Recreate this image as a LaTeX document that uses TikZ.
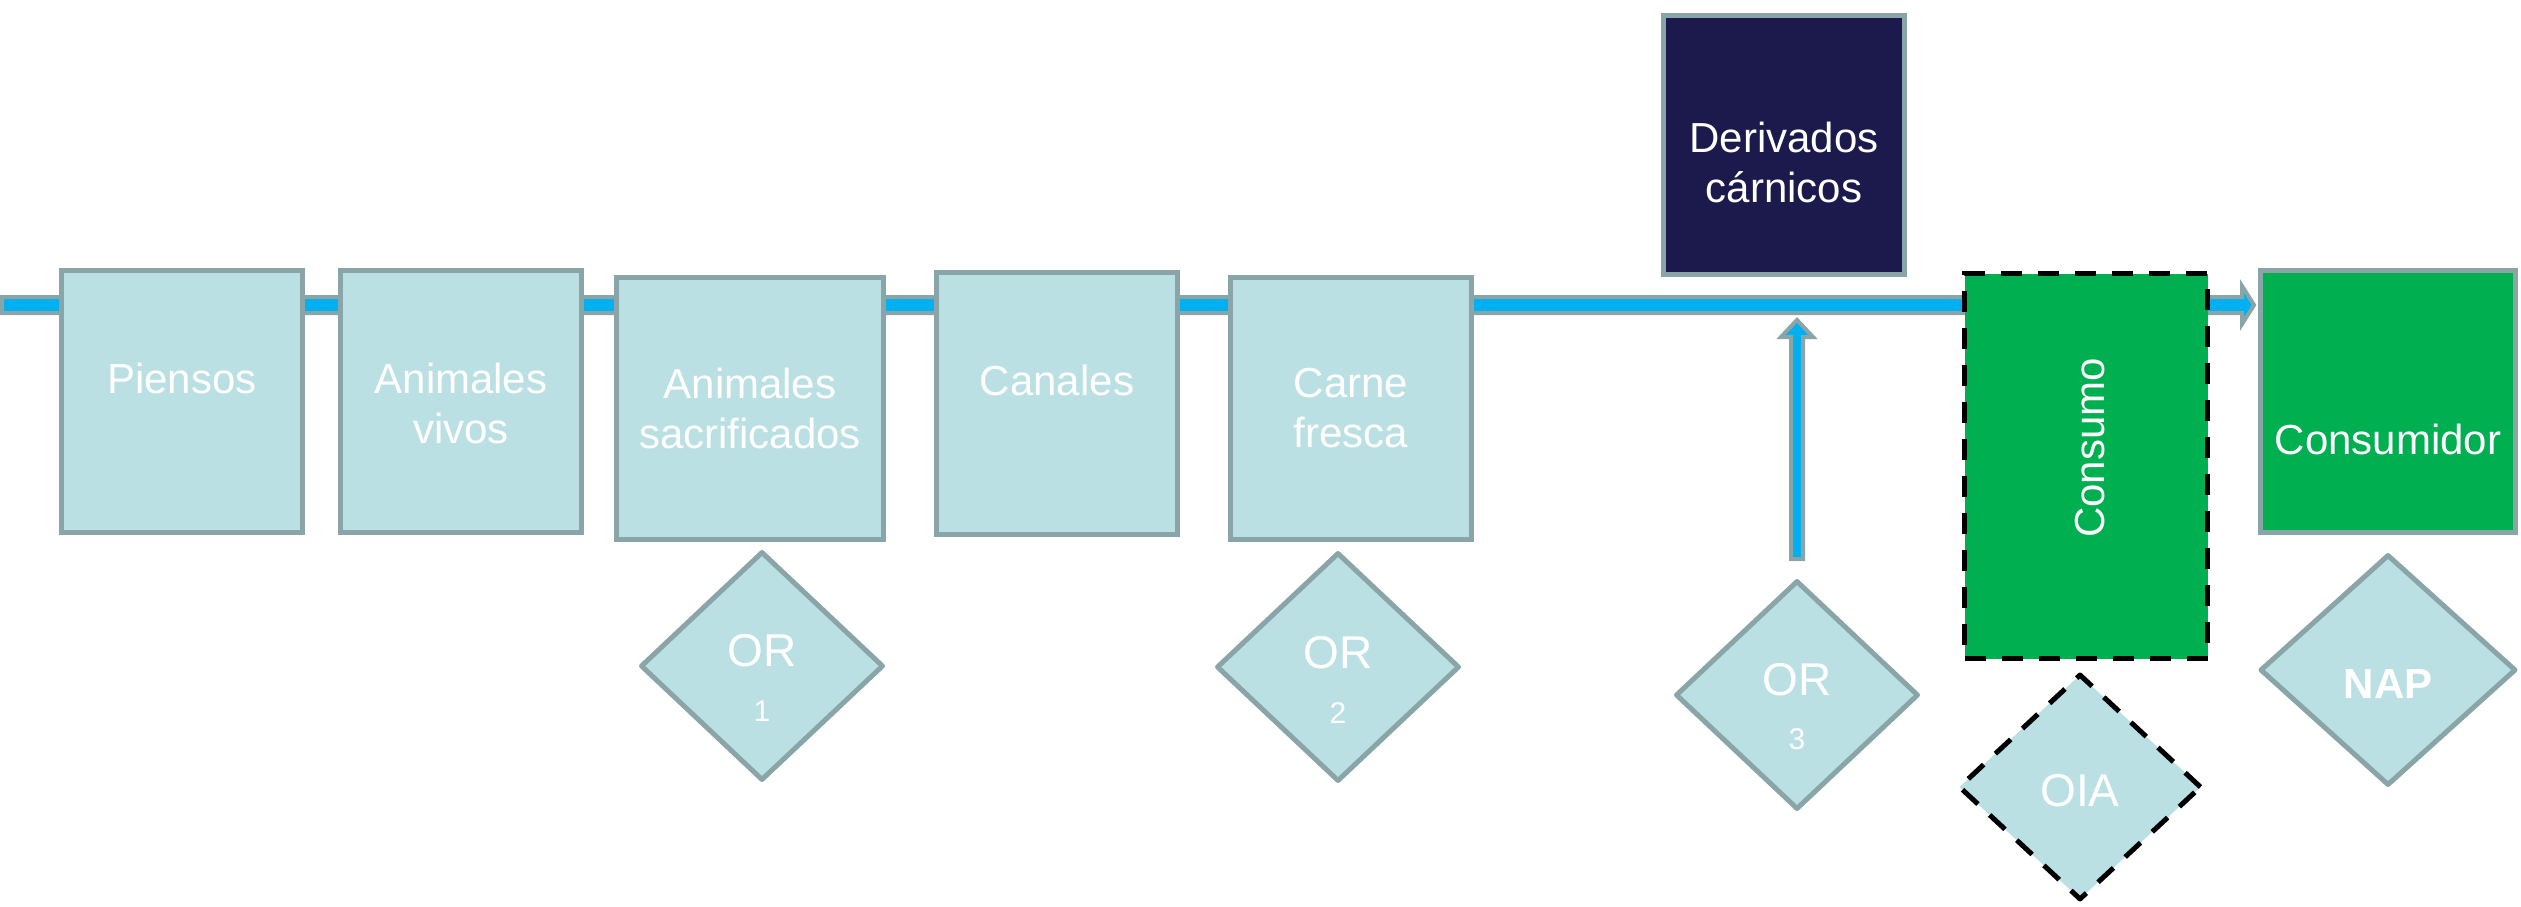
\documentclass[tikz,border=0pt]{standalone}
\usepackage{fontspec}
\setmainfont{Liberation Sans}
\usetikzlibrary{shapes.geometric,calc}
\definecolor{boxfill}{HTML}{BBE0E3}
\definecolor{boxline}{HTML}{8AA5A8}
\definecolor{flowblue}{HTML}{00B0F0}
\definecolor{navyfill}{HTML}{1C1A4C}
\definecolor{consgreen}{HTML}{00AF50}
\begin{document}
\begin{tikzpicture}[x=1pt,y=-1pt,
  stagebox/.style={draw=boxline, fill=boxfill, line width=5pt, inner sep=0pt,
    minimum width=241pt, minimum height=262pt},
  darkbox/.style={stagebox, fill=navyfill},
  greenbox/.style={stagebox, fill=consgreen},
  dashbox/.style={draw=black, fill=consgreen, line width=5pt, inner sep=0pt,
    dash pattern=on 21pt off 16pt},
  gate/.style={diamond, draw=boxline, fill=boxfill, line width=5pt, inner sep=0pt,
    line join=round, minimum width=243pt, minimum height=229pt},
  dashgate/.style={gate, draw=black, dash pattern=on 21pt off 16pt},
  flowarrow/.style={fill=flowblue, draw=boxline, line width=4pt, line join=miter},
  lbl/.style={text=white, inner sep=0pt, font=\fontsize{42}{50}\selectfont, align=center},
  orlbl/.style={text=white, inner sep=0pt, font=\fontsize{46}{54}\selectfont},
  numlbl/.style={text=white, inner sep=0pt, font=\fontsize{30}{36}\selectfont}
]
\useasboundingbox (0,0) rectangle (2521,907);

% flow line
\coordinate (flowstart) at (2,305);
\node[greenbox, minimum width=255pt] (consumidor) at (2388,401.5) {};
\coordinate (flowtip) at ($(consumidor.west |- flowstart)+(-4,0)$);
\path[flowarrow] ($(flowstart)+(0,-8)$) -- ($(flowtip)+(-12,-8)$) -- ($(flowtip)+(-12,-19)$)
  -- (flowtip) -- ($(flowtip)+(-12,19)$) -- ($(flowtip)+(-12,8)$) -- ($(flowstart)+(0,8)$) -- cycle;

% stages
\node[stagebox] (piensos) at (182,401.5) {};
\node[stagebox] (vivos) at (461,401.5) {};
\node[stagebox, minimum width=267pt] (sacrif) at (750,408.5) {};
\node[stagebox] (canales) at (1057,403.5) {};
\node[stagebox] (carne) at (1351,408.5) {};
\node[darkbox, minimum height=259pt] (deriv) at (1784,145) {};
\node[dashbox, minimum width=243pt, minimum height=385pt] (consumo) at (2086,466) {};
\node[greenbox, minimum width=255pt] at (consumidor) {};

% gates
\node[gate] (or1) at (762,666) {};
\node[gate] (or2) at (1338,667) {};
\node[gate] (or3) at (1797,695) {};
\node[dashgate, minimum height=226pt] (oia) at (2080,787) {};
\node[gate, minimum width=256pt, minimum height=231pt] (nap) at (2388,670) {};

% vertical arrow from OR 3
\coordinate (vbot) at ($(or3.north)+(0,-19)$);
\coordinate (vtip) at ($(or3.north |- flowstart)+(0,15)$);
\path[flowarrow] ($(vbot)+(-6,0)$) -- ($(vtip)+(-6,17)$) -- ($(vtip)+(-16,17)$) -- (vtip)
  -- ($(vtip)+(16,17)$) -- ($(vtip)+(6,17)$) -- ($(vbot)+(6,0)$) -- cycle;

% labels
\node[lbl, anchor=base] at (182,393) {Piensos};
\node[lbl] at (461,403) {Animales\\vivos};
\node[lbl] at (750,408) {Animales\\sacrificados};
\node[lbl, anchor=base] at (1057,395) {Canales};
\node[lbl] at (1351,408) {Carne\\fresca};
\node[lbl] at (1784,162) {Derivados\\cárnicos};
\node[lbl, anchor=base, rotate=90] at (2104,448) {Consumo};
\node[lbl, anchor=base] at (2388,454) {Consumidor};

\node[orlbl, anchor=base] at (762,666) {OR};
\node[numlbl, anchor=base] at (762,721) {1};
\node[orlbl, anchor=base] at (1338,668) {OR};
\node[numlbl, anchor=base] at (1338,723) {2};
\node[orlbl, anchor=base] at (1797,695) {OR};
\node[numlbl, anchor=base] at (1797,749) {3};
\node[orlbl, anchor=base] at (2080,806) {OIA};
\node[lbl, anchor=base, font=\fontsize{42}{50}\selectfont\bfseries] at (2388,698) {NAP};
\end{tikzpicture}
\end{document}
